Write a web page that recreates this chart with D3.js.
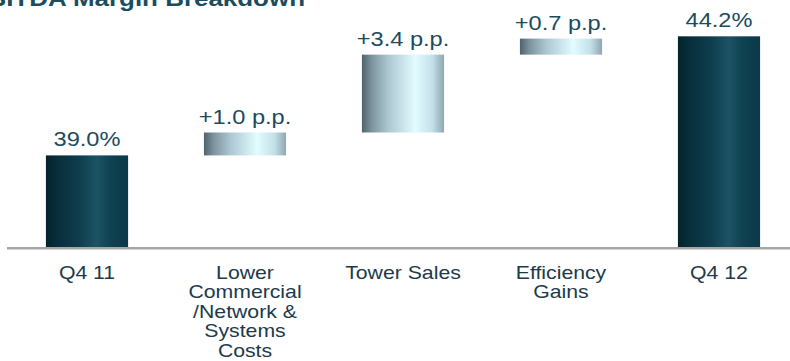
<!DOCTYPE html>
<html>
<head>
<meta charset="utf-8">
<script src="https://cdn.jsdelivr.net/npm/d3@7"></script>
<style>
  html, body { margin: 0; padding: 0; background: #ffffff; }
  svg { display: block; }
  text { font-family: "Liberation Sans", Arial, sans-serif; }
</style>
</head>
<body>
<div id="viz"></div>
<script>
// chart data
var categories = ["Q4 11", "Lower Commercial /Network & Systems Costs", "Tower Sales", "Efficiency Gains", "Q4 12"];
var categoryLines = [["Q4 11"], ["Lower", "Commercial", "/Network &", "Systems", "Costs"], ["Tower Sales"], ["Efficiency", "Gains"], ["Q4 12"]];
var values = [39.0, 1.0, 3.4, 0.7, 44.2];
var barTypes = ["total", "delta", "delta", "delta", "total"];
var valueLabels = ["39.0%", "+1.0 p.p.", "+3.4 p.p.", "+0.7 p.p.", "44.2%"];
var title = "EBITDA Margin Breakdown";

var width = 790, height = 361;
var stretch = 1.18;   // text in the source is a bit wider than plain Arial
var baseY = 247;

// waterfall start / end for every bar
var bars = [];
var run = 0;
values.forEach(function (v, i) {
	if (barTypes[i] == "total") {
		bars.push({ key: categories[i], lo: null, hi: v, type: "total", label: valueLabels[i], lines: categoryLines[i] });
		run = v;
	} else {
		bars.push({ key: categories[i], lo: run, hi: run + v, type: "delta", label: valueLabels[i], lines: categoryLines[i] });
		run = run + v;
	}
});

var svg = d3.select("#viz").append("svg")
	.attr("width", width)
	.attr("height", height);

var x = d3.scaleBand()
	.domain(categories)
	.range([8, 798])
	.paddingInner(0.48)
	.paddingOuter(0.24);

var y = d3.scaleLinear()
	.domain([35, 45])
	.range([baseY, baseY - 10 * 22.9]);

// gradients
var defs = svg.append("defs");
var dark = defs.append("linearGradient").attr("id", "gDark")
	.attr("x1", "0%").attr("x2", "100%").attr("y1", "0%").attr("y2", "0%");
[[0, "#03222c"], [0.12, "#072d39"], [0.4, "#0e3d4d"], [0.62, "#1c5365"], [0.78, "#0f4252"], [1, "#0b3947"]]
	.forEach(function (s) { dark.append("stop").attr("offset", s[0]).attr("stop-color", s[1]); });
var light = defs.append("linearGradient").attr("id", "gLight")
	.attr("x1", "0%").attr("x2", "100%").attr("y1", "0%").attr("y2", "0%");
[[0, "#4f636c"], [0.12, "#7d949e"], [0.32, "#acc7d2"], [0.65, "#e2fcff"], [0.86, "#c3dfe8"], [1, "#8ea7b0"]]
	.forEach(function (s) { light.append("stop").attr("offset", s[0]).attr("stop-color", s[1]); });

// title (cut by the top edge like the source)
svg.append("text")
	.attr("transform", "translate(305,6) scale(" + stretch + ",1)")
	.attr("text-anchor", "end")
	.attr("font-size", 22)
	.attr("font-weight", "bold")
	.attr("fill", "#1b4d61")
	.text(title);

// bars
svg.selectAll(".bar")
	.data(bars)
	.enter()
	.append("rect")
		.attr("class", "bar")
		.attr("x", function (d) { return x(d.key); })
		.attr("width", x.bandwidth())
		.attr("y", function (d) { return y(d.hi); })
		.attr("height", function (d) { return (d.type == "total" ? y.range()[0] : y(d.lo)) - y(d.hi); })
		.attr("fill", function (d) { return d.type == "total" ? "url(#gDark)" : "url(#gLight)"; });

// baseline
svg.append("line")
	.attr("x1", x.range()[0] - 1)
	.attr("x2", width)
	.attr("y1", baseY + 1.2)
	.attr("y2", baseY + 1.2)
	.attr("stroke", "#a6a6a6")
	.attr("stroke-width", 2.5);

// value labels
svg.selectAll(".val")
	.data(bars)
	.enter()
	.append("text")
		.attr("class", "val")
		.attr("transform", function (d) {
			return "translate(" + (x(d.key) + x.bandwidth() / 2) + "," + (y(d.hi) - 9) + ") scale(" + stretch + ",1)";
		})
		.attr("text-anchor", "middle")
		.attr("font-size", 20)
		.attr("fill", "#1b4b5e")
		.text(function (d) { return d.label; });

// category labels
var cat = svg.selectAll(".cat")
	.data(bars)
	.enter()
	.append("text")
		.attr("class", "cat")
		.attr("transform", function (d) {
			return "translate(" + (x(d.key) + x.bandwidth() / 2) + ",279) scale(" + stretch + ",1)";
		})
		.attr("text-anchor", "middle")
		.attr("font-size", 18)
		.attr("fill", "#1c3a4a");

cat.selectAll("tspan")
	.data(function (d) { return d.lines; })
	.enter()
	.append("tspan")
		.attr("x", 0)
		.attr("y", function (d, i) { return i * 19.4; })
		.text(function (d) { return d; });
</script>
</body>
</html>
